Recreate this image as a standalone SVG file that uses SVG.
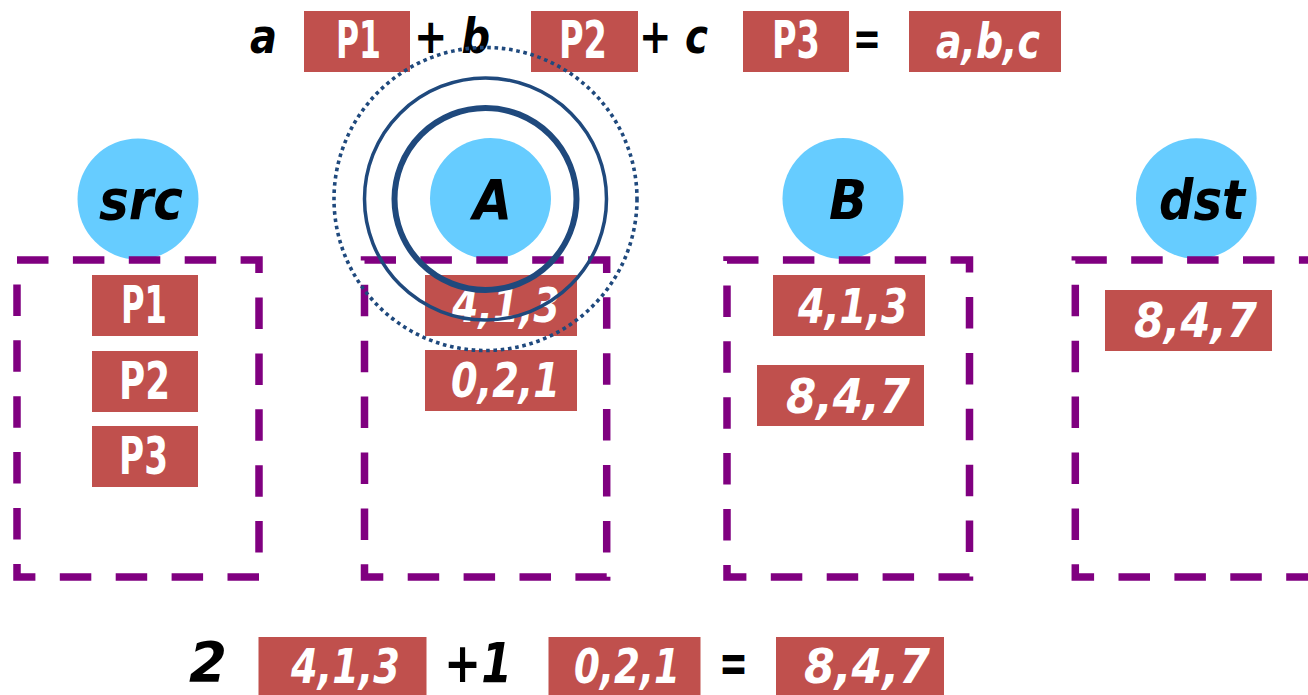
<svg xmlns="http://www.w3.org/2000/svg" width="1308" height="695" viewBox="0 0 1308 695">
<style>
  text { font-family: "DejaVu Sans", "Liberation Sans", sans-serif; font-weight: bold; font-style: italic; }
  .blk { fill: #000000; }
  .wht { fill: #ffffff; }
  .up { font-style: normal; }
  .node { font-size: 56px; }
  .num { font-size: 48px; }
  .pk { font-size: 52px; }
  .eq { font-size: 48px; }
  .eq2 { font-size: 55px; }
  .pkt { fill: #C0504D; }
  .circ { fill: #66CCFF; }
  .box { fill: none; stroke: #800080; stroke-width: 7.5; stroke-dasharray: 31.5 24.4; stroke-linejoin: miter; }
  .ring { fill: none; stroke: #1F497D; }
</style>
<rect width="1308" height="695" fill="#ffffff"/>

<g id="node-src">
  <circle class="circ" cx="138" cy="199" r="60.5"/>
  <text class="blk node" x="99" y="219" textLength="84" lengthAdjust="spacingAndGlyphs">src</text>
  <path class="box" d="M17,260 H259 V577 H17 Z"/>
  <rect class="pkt" x="92" y="275" width="106" height="61"/>
  <text class="wht pk up" x="121" y="323" textLength="46" lengthAdjust="spacingAndGlyphs">P1</text>
  <rect class="pkt" x="92" y="351" width="106" height="61"/>
  <text class="wht pk up" x="119" y="399" textLength="51" lengthAdjust="spacingAndGlyphs">P2</text>
  <rect class="pkt" x="92" y="426" width="106" height="61"/>
  <text class="wht pk up" x="119" y="474" textLength="49" lengthAdjust="spacingAndGlyphs">P3</text>
</g>

<g id="node-A">
  <circle class="circ" cx="490.5" cy="198.5" r="60.5"/>
  <text class="blk node" x="473" y="219" textLength="39" lengthAdjust="spacingAndGlyphs">A</text>
  <path class="box" d="M364.5,260 H606.7 V577 H364.5 Z"/>
  <rect class="pkt" x="425" y="275" width="152" height="61"/>
  <text class="wht num" x="452" y="322" textLength="108" lengthAdjust="spacingAndGlyphs">4,1,3</text>
  <rect class="pkt" x="425" y="350" width="152" height="61"/>
  <text class="wht num" x="451" y="397" textLength="109" lengthAdjust="spacingAndGlyphs">0,2,1</text>
</g>

<g id="node-B">
  <circle class="circ" cx="843" cy="198.5" r="60.5"/>
  <text class="blk node" x="829" y="219" textLength="38" lengthAdjust="spacingAndGlyphs">B</text>
  <path class="box" d="M727,260 H969.5 V577 H727 Z"/>
  <rect class="pkt" x="773" y="275" width="152" height="61"/>
  <text class="wht num" x="798" y="323" textLength="110" lengthAdjust="spacingAndGlyphs">4,1,3</text>
  <rect class="pkt" x="757" y="365" width="167" height="61"/>
  <text class="wht num" x="786" y="413" textLength="124" lengthAdjust="spacingAndGlyphs">8,4,7</text>
</g>

<g id="node-dst">
  <circle class="circ" cx="1196.3" cy="198.5" r="60.3"/>
  <text class="blk node" x="1159" y="219" textLength="86" lengthAdjust="spacingAndGlyphs">dst</text>
  <path class="box" d="M1075.3,260 H1317.5 V577 H1075.3 Z"/>
  <rect class="pkt" x="1105" y="290" width="167" height="61"/>
  <text class="wht num" x="1134" y="337" textLength="123" lengthAdjust="spacingAndGlyphs">8,4,7</text>
</g>

<g id="equation-top">
  <text class="blk eq" x="250" y="53" textLength="27" lengthAdjust="spacingAndGlyphs">a</text>
  <rect class="pkt" x="304" y="11" width="106" height="61"/>
  <text class="wht pk up" x="336" y="58" textLength="45" lengthAdjust="spacingAndGlyphs">P1</text>
  <text class="blk eq" x="414" y="53" textLength="76" lengthAdjust="spacingAndGlyphs">+ b</text>
  <rect class="pkt" x="531" y="11" width="107" height="61"/>
  <text class="wht pk up" x="559" y="58" textLength="48" lengthAdjust="spacingAndGlyphs">P2</text>
  <text class="blk eq" x="639" y="53" textLength="69" lengthAdjust="spacingAndGlyphs">+ c</text>
  <rect class="pkt" x="743" y="11" width="106" height="61"/>
  <text class="wht pk up" x="772" y="58" textLength="48" lengthAdjust="spacingAndGlyphs">P3</text>
  <text class="blk eq" x="853" y="55" textLength="28" lengthAdjust="spacingAndGlyphs">=</text>
  <rect class="pkt" x="909" y="11" width="152" height="61"/>
  <text class="wht num" x="936" y="58" textLength="104" lengthAdjust="spacingAndGlyphs">a,b,c</text>
</g>

<g id="equation-bottom">
  <text class="blk eq2" x="189" y="681" textLength="38" lengthAdjust="spacingAndGlyphs">2</text>
  <rect class="pkt" x="258.5" y="637" width="168" height="61"/>
  <text class="wht num" x="291" y="683" textLength="109" lengthAdjust="spacingAndGlyphs">4,1,3</text>
  <text class="blk eq2" x="444" y="682" textLength="68" lengthAdjust="spacingAndGlyphs">+1</text>
  <rect class="pkt" x="548.5" y="637" width="152" height="61"/>
  <text class="wht num" x="574" y="683" textLength="106" lengthAdjust="spacingAndGlyphs">0,2,1</text>
  <text class="blk eq2" x="719" y="682" textLength="29" lengthAdjust="spacingAndGlyphs">=</text>
  <rect class="pkt" x="776" y="637" width="168" height="61"/>
  <text class="wht num" x="804" y="683" textLength="126" lengthAdjust="spacingAndGlyphs">8,4,7</text>
</g>

<g id="rings-A">
  <circle class="ring" cx="485.5" cy="199" r="91" stroke-width="6"/>
  <circle class="ring" cx="485.5" cy="199" r="121" stroke-width="3.5"/>
  <circle class="ring" cx="485.5" cy="199" r="151.5" stroke-width="3.6" stroke-dasharray="3.6 3.7"/>
</g>

<g id="connectors"/>
</svg>
